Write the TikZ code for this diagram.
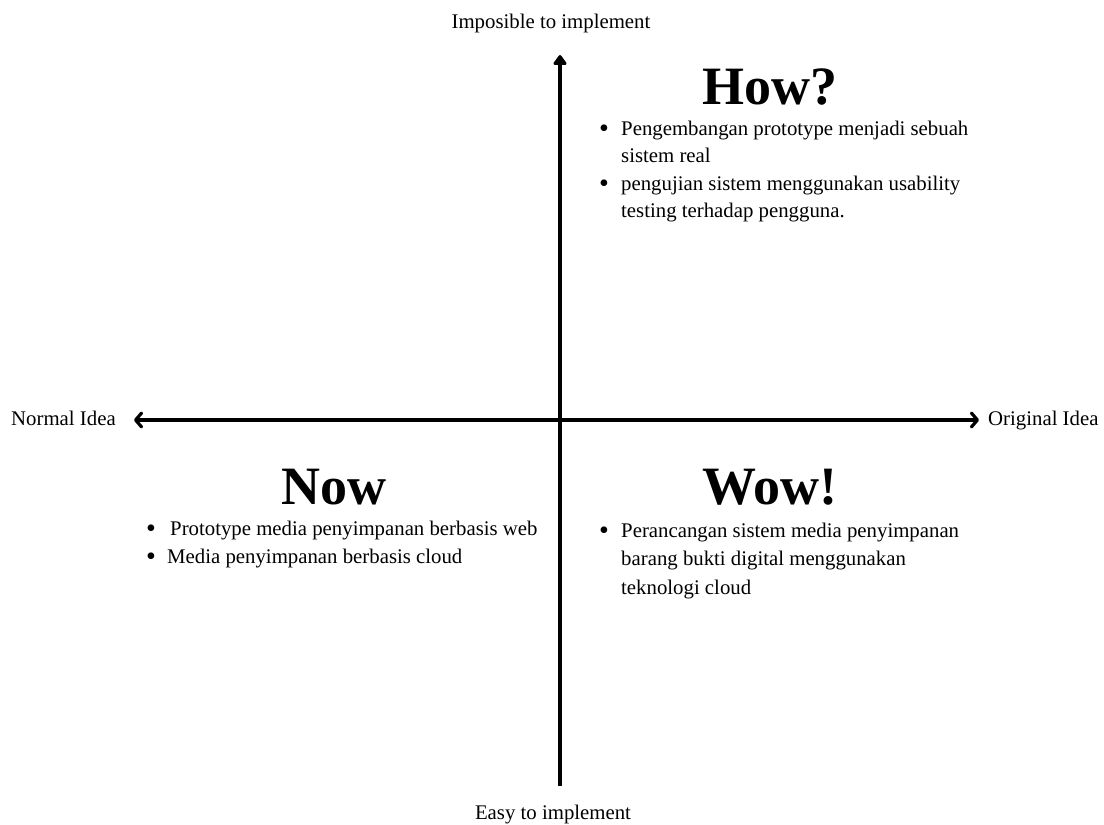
\documentclass[tikz,border=0pt]{standalone}
\usepackage{fontspec}
\setmainfont{Liberation Serif}
\usetikzlibrary{arrows.meta}
\begin{document}
\begin{tikzpicture}[x=1pt,y=-1pt,
  axis/.style={line width=3.2pt},
  axislabel/.style={font=\fontsize{20.8}{24}\selectfont, inner sep=0pt, yshift=-3pt},
  heading/.style={font=\fontsize{54}{58}\selectfont\bfseries, inner sep=0pt},
  item/.style={font=\fontsize{20.8}{24}\selectfont, inner sep=0pt, anchor=mid west, yshift=-3pt},
  dot/.style={font=\fontsize{28}{30}\selectfont, inner sep=0pt, anchor=center, yshift=-1pt}]
  \useasboundingbox[fill=white] (0,0) rectangle (1104,825);

  % axes
  \coordinate (top) at (560,55);
  \coordinate (bottom) at (560,786);
  \coordinate (left) at (134,420);
  \coordinate (right) at (979,420);
  \draw[axis, -{Triangle[length=11pt,width=15pt,round]}] (bottom) -- (top);
  \draw[axis, {Straight Barb[length=6pt,width=14pt,round]}-{Straight Barb[length=6pt,width=14pt,round]}] (left) -- (right);

  % axis labels
  \node[axislabel] (imp) at (551,20) {Imposible to implement};
  \node[axislabel] (easy) at (553,812) {Easy to implement};
  \node[axislabel, anchor=mid west] (normal) at (11,420) {Normal Idea};
  \node[axislabel, anchor=mid west] (orig) at (988,420) {Original Idea};

  % top right quadrant
  \node[heading] (how) at (770,87) {How?};
  \node[dot] (b1) at (604,130) {\textbullet};
  \node[item] (h1) at (621,130) {Pengembangan prototype menjadi sebuah};
  \node[item] (h2) at (621,157) {sistem real};
  \node[dot] (b2) at (604,185) {\textbullet};
  \node[item] (h3) at (621,185) {pengujian sistem menggunakan usability};
  \node[item] (h4) at (621,212) {testing terhadap pengguna.};

  % bottom left quadrant
  \node[heading] (now) at (334,487) {Now};
  \node[dot] (b3) at (151,530) {\textbullet};
  \node[item] (n1) at (170,530) {Prototype media penyimpanan berbasis web};
  \node[dot] (b4) at (151,558) {\textbullet};
  \node[item] (n2) at (167,558) {Media penyimpanan berbasis cloud};

  % bottom right quadrant
  \node[heading] (wow) at (770,487) {Wow!};
  \node[dot] (b5) at (604,532) {\textbullet};
  \node[item] (w1) at (621,532) {Perancangan sistem media penyimpanan};
  \node[item] (w2) at (621,560) {barang bukti digital menggunakan};
  \node[item] (w3) at (621,589) {teknologi cloud};
\end{tikzpicture}
\end{document}
